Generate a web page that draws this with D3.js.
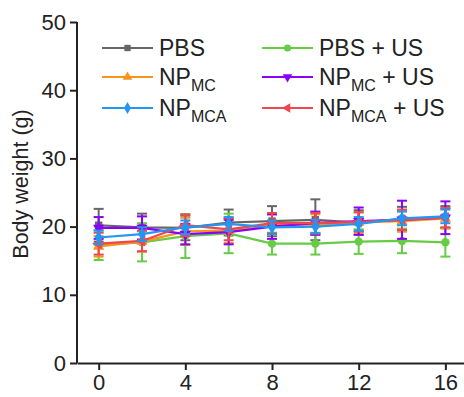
<!DOCTYPE html>
<html><head><meta charset="utf-8">
<script src="https://cdn.jsdelivr.net/npm/d3@7"></script>
<style>body{margin:0;background:#fff;}svg{display:block;}text{font-family:"Liberation Sans",Arial,sans-serif;fill:#222;}</style>
</head><body>
<svg id="c" width="464" height="397"></svg>
<script>
const days = [0, 2, 4, 6, 8, 10, 12, 14, 16];
const xTicks = [0, 4, 8, 12, 16];
const yTicks = [0, 10, 20, 30, 40, 50];

const pbs       = [20.2, 19.9, 19.8, 20.6, 20.8, 21.0, 20.6, 21.1, 21.4];
const pbsErr    = [2.4, 2.0, 1.8, 1.9, 2.2, 3.0, 1.8, 1.8, 1.6];
const pbsUs     = [17.3, 17.7, 18.6, 19.0, 17.5, 17.5, 17.8, 17.9, 17.7];
const pbsUsErr  = [2.2, 2.8, 3.2, 2.9, 1.6, 1.6, 1.8, 1.8, 2.1];
const npMc      = [17.1, 17.8, 19.3, 19.4, 20.3, 20.3, 20.6, 20.8, 21.2];
const npMcErr   = [1.5, 1.5, 2.0, 1.8, 1.5, 1.5, 1.5, 1.5, 1.5];
const npMcUs    = [19.8, 19.8, 18.9, 19.2, 20.0, 20.5, 20.8, 21.0, 21.3];
const npMcUsErr = [1.6, 1.7, 1.5, 1.8, 1.8, 1.7, 2.0, 2.8, 2.4];
const npMca     = [18.4, 18.9, 19.9, 20.4, 19.9, 20.0, 20.4, 21.2, 21.5];
const npMcaErr  = [1.0, 1.0, 1.0, 1.0, 1.0, 1.0, 1.0, 1.0, 1.0];
const npMcaUs   = [17.5, 17.9, 20.2, 19.6, 20.5, 20.5, 20.7, 21.0, 21.3];
const npMcaUsErr= [1.6, 1.5, 1.6, 1.6, 1.5, 1.5, 1.4, 1.5, 1.4];

const series = [
  {name:"PBS", sub:"", suffix:"", vals:pbs, err:pbsErr, color:"#666666", sym:d3.symbolSquare, rot:0, col:0, row:0},
  {name:"PBS + US", sub:"", suffix:"", vals:pbsUs, err:pbsUsErr, color:"#66cc44", sym:d3.symbolCircle, rot:0, col:1, row:0},
  {name:"NP", sub:"MC", suffix:"", vals:npMc, err:npMcErr, color:"#f7941d", sym:d3.symbolTriangle, rot:0, col:0, row:1},
  {name:"NP", sub:"MC", suffix:" + US", vals:npMcUs, err:npMcUsErr, color:"#8a00ff", sym:d3.symbolTriangle, rot:180, col:1, row:1},
  {name:"NP", sub:"MCA", suffix:" + US", vals:npMcaUs, err:npMcaUsErr, color:"#f0464f", sym:d3.symbolTriangle, rot:-90, col:1, row:2},
  {name:"NP", sub:"MCA", suffix:"", vals:npMca, err:npMcaErr, color:"#2196f3", sym:d3.symbolDiamond, rot:0, col:0, row:2}
];

const svg = d3.select("#c");
const x = d3.scaleLinear().domain([-1, 16.86]).range([77, 464]);
const y = d3.scaleLinear().domain([0, 50]).range([363, 22]);

// axes
const gx = svg.append("g").attr("transform","translate(0,363)")
  .call(d3.axisBottom(x).tickValues(xTicks).tickSize(7).tickSizeOuter(0).tickPadding(4));
const gy = svg.append("g").attr("transform","translate(77,0)")
  .call(d3.axisLeft(y).tickValues(yTicks).tickSize(7).tickSizeOuter(0).tickPadding(4));
[gx, gy].forEach(g => {
  g.selectAll("path.domain").attr("stroke","#222").attr("stroke-width",2);
  g.selectAll(".tick line").attr("stroke","#222").attr("stroke-width",2);
  g.selectAll(".tick text").style("font-size","22px").attr("fill","#222")
   .style("font-family","'Liberation Sans',Arial,sans-serif");
});
gy.select("path.domain").attr("d","M0,22V363");

svg.append("text").attr("transform","translate(28,184) rotate(-90)")
  .attr("text-anchor","middle").style("font-size","21.5px").text("Body weight (g)");

// series
series.forEach(s => {
  const g = svg.append("g");
  const pts = days.map((d,i)=>({d, v:s.vals[i], e:s.err[i]}));
  g.append("path").datum(pts)
    .attr("d", d3.line().x(p=>x(p.d)).y(p=>y(p.v)))
    .attr("fill","none").attr("stroke",s.color).attr("stroke-width",2.2);
  const eb = g.selectAll("g.eb").data(pts).enter().append("g");
  eb.append("line").attr("x1",p=>x(p.d)).attr("x2",p=>x(p.d))
    .attr("y1",p=>y(p.v+p.e)).attr("y2",p=>y(p.v-p.e))
    .attr("stroke",s.color).attr("stroke-width",2);
  [1,-1].forEach(sg => {
    eb.append("line").attr("x1",p=>x(p.d)-5).attr("x2",p=>x(p.d)+5)
      .attr("y1",p=>y(p.v+sg*p.e)).attr("y2",p=>y(p.v+sg*p.e))
      .attr("stroke",s.color).attr("stroke-width",2);
  });
  g.selectAll("path.m").data(pts).enter().append("path")
    .attr("d", d3.symbol().type(s.sym).size(55))
    .attr("transform",p=>`translate(${x(p.d)},${y(p.v)}) rotate(${s.rot})`)
    .attr("fill",s.color);
});

// legend
const rowsY = [48, 77, 108];
const colsX = [102, 262];
series.forEach(s => {
  const lx = colsX[s.col], ly = rowsY[s.row];
  svg.append("line").attr("x1",lx).attr("x2",lx+51).attr("y1",ly).attr("y2",ly)
    .attr("stroke",s.color).attr("stroke-width",2);
  svg.append("path").attr("d", d3.symbol().type(s.sym).size(40))
    .attr("transform",`translate(${lx+25.5},${ly}) rotate(${s.rot})`).attr("fill",s.color);
  const t = svg.append("text").attr("x",lx+57).attr("y",ly+8).style("font-size","23px");
  t.append("tspan").text(s.name);
  if (s.sub) {
    t.append("tspan").attr("dy",6).style("font-size","16px").text(s.sub);
    if (s.suffix) t.append("tspan").attr("dy",-6).text(s.suffix);
  }
});
</script>
</body></html>
